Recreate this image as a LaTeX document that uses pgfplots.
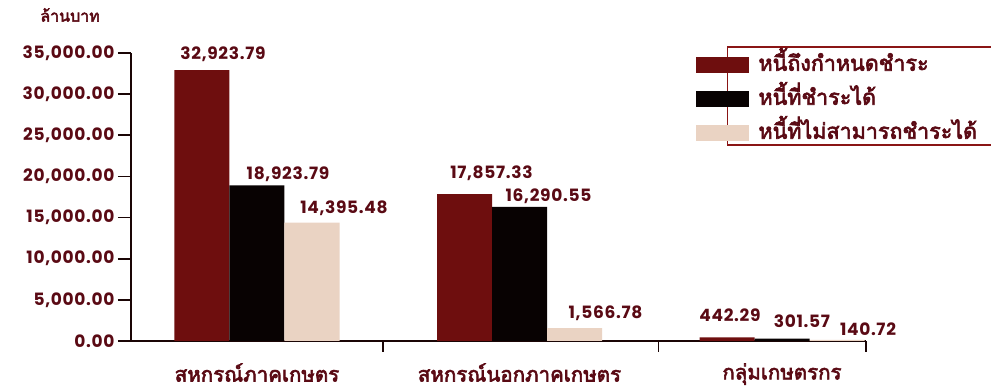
\documentclass[border=0pt]{standalone}
\usepackage{pgfplots}
\pgfplotsset{compat=1.18}
\usepackage{fontspec}
\setmainfont{Poppins}
\newfontfamily\numfont[LetterSpace=4]{Poppins}
\newfontfamily\thaifont[Script=Thai, FakeBold=3]{Loma}
\definecolor{txt}{HTML}{5A0A14}
\definecolor{barA}{HTML}{6E0E0E}
\definecolor{barB}{HTML}{080202}
\definecolor{barC}{HTML}{EAD3C3}
\definecolor{frame}{HTML}{8A1515}
\definecolor{axiscol}{HTML}{1A0505}
% x  y  dx  dy
\pgfplotstableread{
x y dx dy
0 32923.79 21 5
1 17857.33 27 10
2 442.29 3 12
}\serA
\pgfplotstableread{
x y dx dy
0 18923.79 31 0
1 16290.55 29 0
2 301.57 20 7
}\serB
\pgfplotstableread{
x y dx dy
0 14395.48 32 3
1 1566.78 31 4
2 140.72 31 1
}\serC
\begin{document}
\begin{tikzpicture}
\useasboundingbox (-131pt,-49pt) rectangle (860pt,341pt);
\begin{axis}[
  scale only axis, width=735pt, height=288pt,
  clip=false,
  ybar=0pt, bar width=55pt,
  xmin=-0.48, xmax=2.32, ymin=0, ymax=35000,
  axis lines*=left,
  axis line style={axiscol, line width=1.6pt},
  tick align=outside,
  xtick={0,1,2},
  xticklabels={สหกรณ์ภาคเกษตร,สหกรณ์นอกภาคเกษตร,กลุ่มเกษตรกร},
  major x tick style={draw=none},
  minor xtick={0.48,1.53,2.32},
  minor x tick style={axiscol, line width=1.6pt},
  minor tick length=11pt,
  xticklabel style={font=\thaifont\fontsize{20.5}{20.5}\selectfont, text=txt, yshift=-6pt},
  ytick={0,5000,...,35000},
  major y tick style={axiscol, line width=1.6pt},
  major tick length=13pt,
  scaled y ticks=false,
  yticklabel style={font=\numfont\bfseries\fontsize{17}{17}\selectfont, text=txt,
    /pgf/number format/.cd, fixed, fixed zerofill, precision=2, 1000 sep={,}, assume math mode=true},
  visualization depends on={\thisrow{dx} \as \mydx},
  visualization depends on={\thisrow{dy} \as \mydy},
  nodes near coords,
  nodes near coords style={font=\numfont\bfseries\fontsize{17}{17}\selectfont, text=txt,
    xshift=\mydx pt, yshift=\mydy pt,
    /pgf/number format/.cd, fixed, fixed zerofill, precision=2, 1000 sep={,}, assume math mode=true},
  legend style={at={(axis description cs:0.765,1.012)}, anchor=north west, draw=none, fill=none,
    font=\thaifont\fontsize{21.5}{21.5}\selectfont, text=txt,
    row sep=8pt, nodes={text height=17pt, text depth=5pt}},
  legend image code/.code={\draw[#1,draw=none] (0pt,-8pt) rectangle (53pt,8pt); \path (60pt,0pt);},
  legend cell align=left,
]
\addplot[fill=barA, draw=none] table[x=x, y=y] {\serA};
\addplot[fill=barB, draw=none] table[x=x, y=y] {\serB};
\addplot[fill=barC, draw=none] table[x=x, y=y] {\serC};
\legend{หนี้ถึงกำหนดชำระ,หนี้ที่ชำระได้,หนี้ที่ไม่สามารถชำระได้}
\draw[frame, line width=1.3pt] (axis description cs:0.812,1.021) rectangle (axis description cs:1.176,0.681);
\node[font=\thaifont\fontsize{16}{16}\selectfont, text=txt] at (axis description cs:-0.083,1.132) {ล้านบาท};
\end{axis}
\end{tikzpicture}
\end{document}
